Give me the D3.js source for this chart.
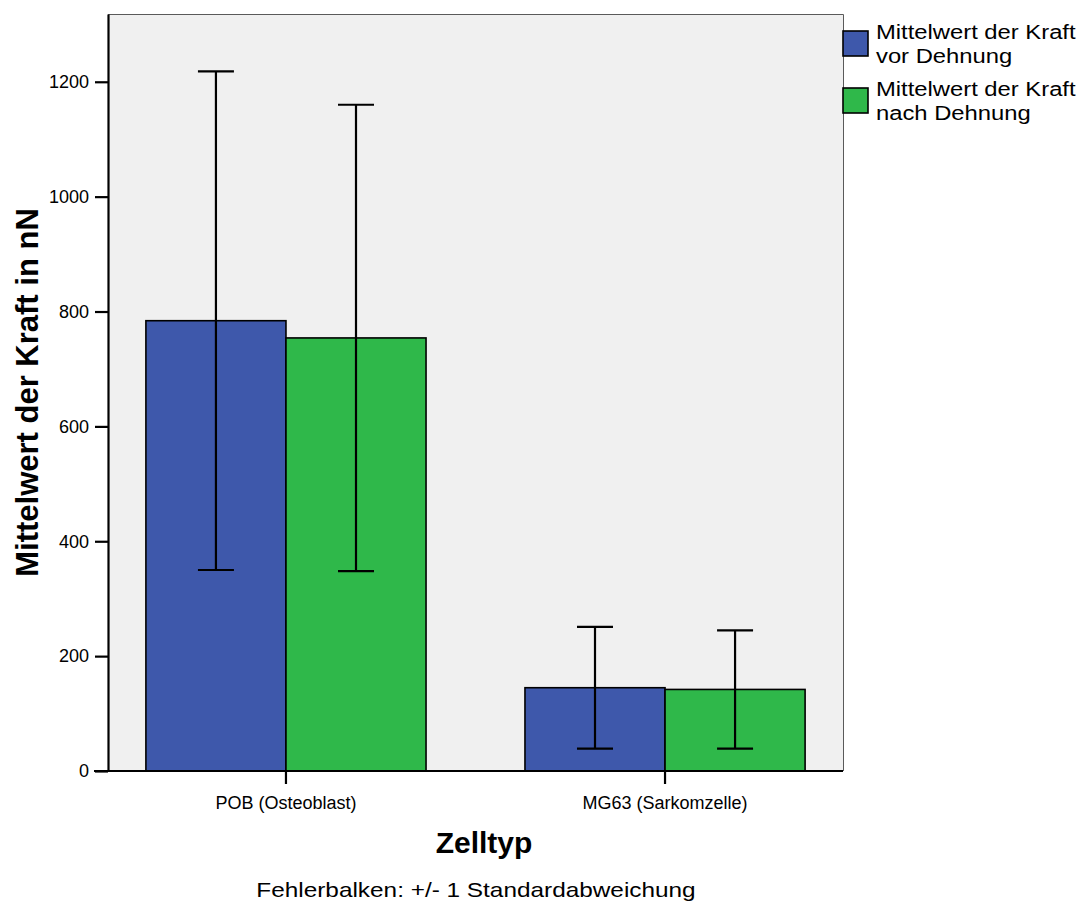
<!DOCTYPE html>
<html>
<head>
<meta charset="utf-8">
<script src="https://cdn.jsdelivr.net/npm/d3@7"></script>
<style>
  html, body { margin: 0; padding: 0; background: #ffffff; }
  svg { display: block; font-family: "Liberation Sans", Arial, sans-serif; }
</style>
</head>
<body>
<svg id="chart" width="1081" height="905"></svg>
<script>
// Cell types on the x axis
const categories = ["POB (Osteoblast)", "MG63 (Sarkomzelle)"];
// Series keys and legend labels (two lines each)
const seriesKeys = ["vor", "nach"];
const seriesLabels = [
  ["Mittelwert der Kraft", "vor Dehnung"],
  ["Mittelwert der Kraft", "nach Dehnung"]
];
const seriesColors = ["#3e58ab", "#2fb84a"];
// Mean force (nN) per cell type
const meanVor = [784, 145];
const meanNach = [754, 142];
// Standard deviation (nN) per cell type
const sdVor = [434, 106];
const sdNach = [406, 103];
// Y axis ticks
const yTicks = [0, 200, 400, 600, 800, 1000, 1200];

const rows = categories.map((c, i) => ({
  category: c,
  values: [
    { key: "vor", mean: meanVor[i], sd: sdVor[i] },
    { key: "nach", mean: meanNach[i], sd: sdNach[i] }
  ]
}));

const svg = d3.select("#chart");
const plot = { left: 108, right: 843, top: 14, bottom: 771 };

const x = d3.scaleBand()
  .domain(categories)
  .range([plot.left, plot.right])
  .paddingInner(0.261)
  .paddingOuter(0.1);

const xSub = d3.scaleBand()
  .domain(seriesKeys)
  .range([0, x.bandwidth()])
  .padding(0);

const y = d3.scaleLinear()
  .domain([0, 1318])
  .range([plot.bottom, plot.top]);

const color = d3.scaleOrdinal().domain(seriesKeys).range(seriesColors);

// Plot background
svg.append("rect")
  .attr("x", plot.left).attr("y", plot.top)
  .attr("width", plot.right - plot.left)
  .attr("height", plot.bottom - plot.top)
  .attr("fill", "#f0f0f0");

// Top and right frame lines
svg.append("path")
  .attr("d", `M${plot.left},${plot.top + 0.5}H${plot.right + 0.5}V${plot.bottom}`)
  .attr("fill", "none")
  .attr("stroke", "#5a5a5a")
  .attr("stroke-width", 1);

// Bars
const groups = svg.append("g").selectAll("g")
  .data(rows).join("g")
  .attr("transform", d => `translate(${x(d.category)},0)`);

groups.selectAll("rect")
  .data(d => d.values).join("rect")
  .attr("x", d => xSub(d.key))
  .attr("y", d => y(d.mean))
  .attr("width", xSub.bandwidth())
  .attr("height", d => y(0) - y(d.mean))
  .attr("fill", d => color(d.key))
  .attr("stroke", "#000")
  .attr("stroke-width", 1.6);

// Error bars: mean ± 1 SD
const capHalf = 18;
const err = groups.selectAll("g.err")
  .data(d => d.values).join("g")
  .attr("class", "err")
  .attr("transform", d => `translate(${xSub(d.key) + xSub.bandwidth() / 2},0)`)
  .attr("stroke", "#000")
  .attr("stroke-width", 2.2);

err.append("line")
  .attr("x1", 0).attr("x2", 0)
  .attr("y1", d => y(d.mean + d.sd))
  .attr("y2", d => y(d.mean - d.sd));
err.append("line")
  .attr("x1", -capHalf).attr("x2", capHalf)
  .attr("y1", d => y(d.mean + d.sd))
  .attr("y2", d => y(d.mean + d.sd));
err.append("line")
  .attr("x1", -capHalf).attr("x2", capHalf)
  .attr("y1", d => y(d.mean - d.sd))
  .attr("y2", d => y(d.mean - d.sd));

// Y axis
const yAxis = svg.append("g")
  .attr("transform", `translate(${plot.left},0)`)
  .call(d3.axisLeft(y).tickValues(yTicks).tickFormat(d3.format("d"))
    .tickSize(13).tickPadding(6).tickSizeOuter(0));
yAxis.select(".domain").attr("stroke", "#000").attr("stroke-width", 2.2);
yAxis.selectAll(".tick line").attr("stroke", "#000").attr("stroke-width", 2.2);
yAxis.selectAll(".tick text")
  .attr("font-size", 18)
  .attr("font-family", "Liberation Sans, Arial, sans-serif")
  .attr("fill", "#000");

// X axis
const xAxis = svg.append("g")
  .attr("transform", `translate(0,${plot.bottom})`)
  .call(d3.axisBottom(x).tickSize(13).tickPadding(12).tickSizeOuter(0));
xAxis.select(".domain").attr("stroke", "#000").attr("stroke-width", 2.2)
  .attr("d", `M${plot.left - 14},0H${plot.right}`);
xAxis.selectAll(".tick line").attr("stroke", "#000").attr("stroke-width", 2.2);
xAxis.selectAll(".tick text")
  .attr("font-size", 18)
  .attr("font-family", "Liberation Sans, Arial, sans-serif")
  .attr("fill", "#000");

// Axis titles
svg.append("text")
  .attr("transform", `translate(38,${(plot.top + plot.bottom) / 2}) rotate(-90)`)
  .attr("text-anchor", "middle")
  .attr("font-size", 31)
  .attr("font-weight", "bold")
  .attr("fill", "#000")
  .text("Mittelwert der Kraft in nN");

svg.append("text")
  .attr("x", 484).attr("y", 853)
  .attr("text-anchor", "middle")
  .attr("font-size", 30)
  .attr("font-weight", "bold")
  .attr("fill", "#000")
  .text("Zelltyp");

// Footnote
svg.append("text")
  .attr("transform", `translate(476,897) scale(1.16,1)`)
  .attr("text-anchor", "middle")
  .attr("font-size", 21)
  .attr("fill", "#000")
  .text("Fehlerbalken: +/- 1 Standardabweichung");

// Legend
const legend = svg.append("g").selectAll("g")
  .data(seriesKeys).join("g")
  .attr("transform", (d, i) => `translate(843,${31 + i * 57})`);

legend.append("rect")
  .attr("x", 0).attr("y", 0)
  .attr("width", 25).attr("height", 25)
  .attr("fill", d => color(d))
  .attr("stroke", "#000")
  .attr("stroke-width", 1.6);

legend.each(function(d, i) {
  const g = d3.select(this);
  seriesLabels[i].forEach((line, j) => {
    g.append("text")
      .attr("transform", `translate(33,${8 + j * 24}) scale(1.19,1)`)
      .attr("font-size", 20)
      .attr("fill", "#000")
      .text(line);
  });
});
</script>
</body>
</html>
